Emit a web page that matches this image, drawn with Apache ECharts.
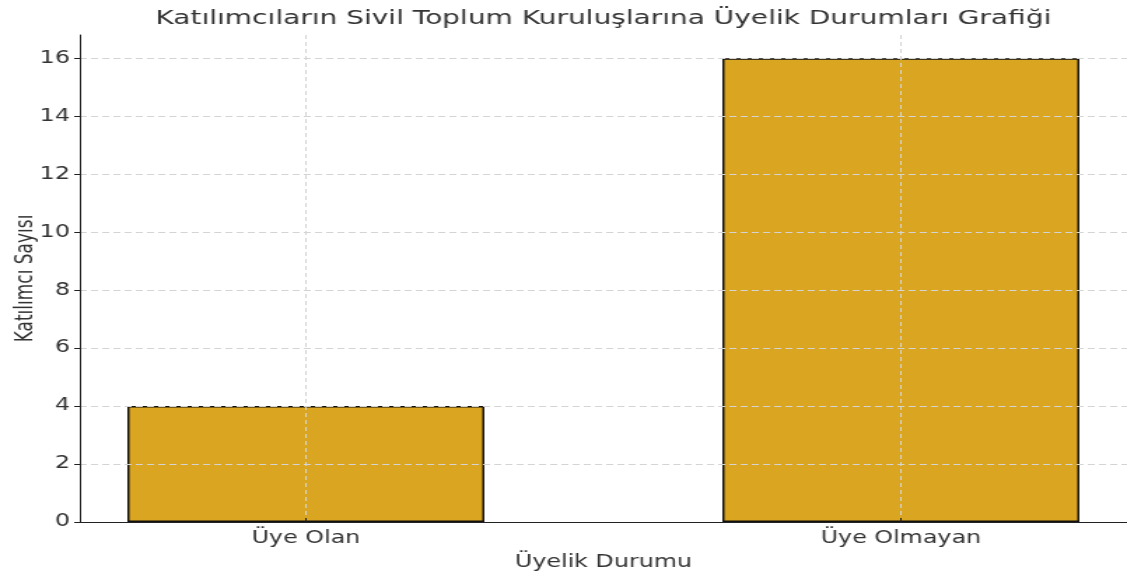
<!DOCTYPE html>
<html>
<head>
<meta charset="utf-8">
<script src="https://cdn.jsdelivr.net/npm/echarts@6/dist/echarts.min.js"></script>
<style>
  html, body { margin: 0; padding: 0; background: #fff; overflow: hidden; }
  /* the reference is a horizontally stretched figure: draw at 805px and widen by 1.4 */
  #chart { width: 805px; height: 575px; transform: scaleX(1.4); transform-origin: 0 0; }
</style>
</head>
<body>
<div id="chart"></div>
<script>
const categories = ['Üye Olan', 'Üye Olmayan']
const counts = [4, 16]
const yTicks = [0, 2, 4, 6, 8, 10, 12, 14, 16]

const titleText = 'Katılımcıların Sivil Toplum Kuruluşlarına Üyelik Durumları Grafiği'
const font = 'DejaVu Sans'

// centre the title over the plot area, not the whole canvas
const measure = document.createElement('canvas').getContext('2d')
measure.font = '20px "' + font + '"'
const titleWidth = measure.measureText(titleText).width

const option = {
  animation: false,
  textStyle: { fontFamily: font },
  title: {
    text: titleText,
    left: 431 - titleWidth / 2,
    top: 9,
    padding: 0,
    textStyle: { fontFamily: font, fontSize: 20, fontWeight: 'normal', color: '#333' }
  },
  grid: { left: 57, right: 0, top: 35, bottom: 53, outerBoundsMode: 'none', containLabel: false },
  xAxis: {
    type: 'value',
    min: -0.38,
    max: 1.38,
    z: 3,
    name: 'Üyelik Durumu',
    nameLocation: 'middle',
    nameGap: 32,
    nameMoveOverlap: false,
    nameTextStyle: { fontFamily: font, fontSize: 17, color: '#333' },
    axisLine: { show: true, onZero: false, lineStyle: { color: '#222', width: 1 } },
    axisTick: { show: true, inside: true, length: 4, customValues: categories.map((c, i) => i), lineStyle: { color: '#222' } },
    axisLabel: {
      customValues: categories.map((c, i) => i),
      formatter: v => categories[v],
      margin: 8,
      fontFamily: font,
      fontSize: 17,
      color: '#333'
    },
    splitLine: {
      show: true,
      showMinLine: true,
      showMaxLine: true,
      lineStyle: { color: '#d4d4d4', type: [4, 3], width: 1 }
    }
  },
  yAxis: {
    type: 'value',
    min: 0,
    max: 16.8,
    z: 3,
    name: 'Katılımcı Sayısı',
    nameLocation: 'middle',
    nameRotate: 90,
    nameGap: 30,
    nameMoveOverlap: false,
    nameTextStyle: { fontFamily: font, fontSize: 17, color: '#333' },
    axisLine: { show: true, onZero: false, lineStyle: { color: '#222', width: 1 } },
    axisTick: { show: true, length: 4, customValues: yTicks, lineStyle: { color: '#222' } },
    axisLabel: { customValues: yTicks, margin: 7, fontFamily: font, fontSize: 17, color: '#333' },
    splitLine: {
      show: true,
      showMinLine: false,
      showMaxLine: true,
      lineStyle: { color: '#d4d4d4', type: [5, 3], width: 1 }
    }
  },
  series: [{
    type: 'bar',
    data: counts.map((v, i) => [i, v]),
    barWidth: 255,
    itemStyle: { color: '#DAA520', borderColor: '#111', borderWidth: 1.5 }
  }]
}

const myChart = echarts.init(document.getElementById('chart'))
myChart.setOption(option)
</script>
</body>
</html>
